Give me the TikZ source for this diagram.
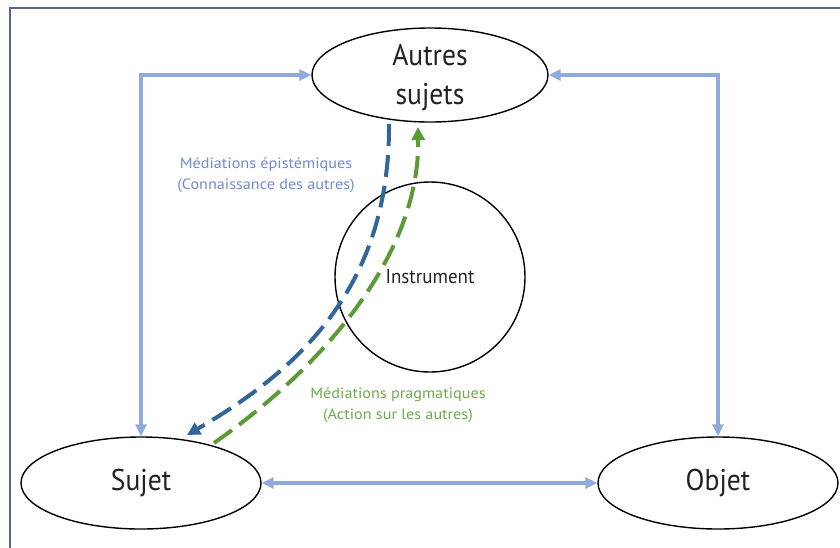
\documentclass[tikz,border=0pt]{standalone}
\usepackage{fontspec}
\setmainfont{PT Sans}
\usetikzlibrary{arrows.meta,shapes.geometric}
\definecolor{lightblue}{HTML}{8FAADC}
\definecolor{darkblue}{HTML}{31669B}
\definecolor{dgreen}{HTML}{5B9B35}
\definecolor{lblblue}{HTML}{6F8BD0}
\definecolor{lblgreen}{HTML}{6FAA4A}
\definecolor{framecol}{HTML}{56668A}
\definecolor{txt}{HTML}{222222}
\tikzset{
  oval/.style={ellipse, draw=black, line width=1.4pt, inner sep=0pt},
  ovaltext/.style={text=txt, font=\fontsize{30}{39}\selectfont\addfontfeature{FakeStretch=0.92}, align=center},
  lbarrow/.style={draw=lightblue, line width=3.6pt, {Triangle[length=12pt,width=11pt]}-{Triangle[length=12pt,width=11pt]}},
  dashblue/.style={draw=darkblue, line width=4pt, dash pattern=on 22pt off 9pt, -{Triangle[length=13pt,width=13pt]}},
  dashgreen/.style={draw=dgreen, line width=4pt, dash pattern=on 22pt off 9pt, -{Triangle[length=13pt,width=13pt]}},
  lbl/.style={font=\fontsize{15}{20.5}\selectfont\addfontfeature{FakeStretch=1.08}, align=center},
}
\begin{document}
\begin{tikzpicture}[x=1pt,y=-1pt]
\useasboundingbox (0,0) rectangle (840,547);
\draw[framecol, line width=2pt] (10,560) -- (10,8) -- (850,8);
\node[oval, minimum width=236pt, minimum height=94pt, label={[ovaltext, yshift=-3pt]center:Autres\\sujets}] (autres) at (430,75) {};
\node[oval, minimum width=240pt, minimum height=92pt, label={[ovaltext]center:Sujet}] (sujet) at (141,483) {};
\node[oval, minimum width=240pt, minimum height=92pt, label={[ovaltext]center:Objet}] (objet) at (718,483) {};
\node[circle, draw=black, line width=1.4pt, minimum size=190pt, inner sep=0pt, text=txt, font=\fontsize{20}{24}\selectfont\addfontfeature{FakeStretch=0.95}] (instr) at (430,277) {Instrument};
\draw[lbarrow] (sujet.north) -- (sujet.north |- autres.west) -- (autres.west);
\draw[lbarrow] (autres.east) -- (objet.north |- autres.east) -- (objet.north);
\draw[lbarrow] (sujet.east) -- (objet.west);
\coordinate (bstart) at (389,124);
\coordinate (bend) at (187,435);
\coordinate (gstart) at (214,443);
\coordinate (gend) at (418,127);
\draw[dashblue] (bstart) .. controls (390,290) and (295,372) .. (bend);
\draw[dashgreen] (gstart) .. controls (330,362) and (420,250) .. (gend);
\node[lbl, text=lblblue] (epi) at (266,175) {Médiations épistémiques\\(Connaissance des autres)};
\node[lbl, text=lblgreen] (prag) at (398,405) {Médiations pragmatiques\\(Action sur les autres)};
\end{tikzpicture}
\end{document}
